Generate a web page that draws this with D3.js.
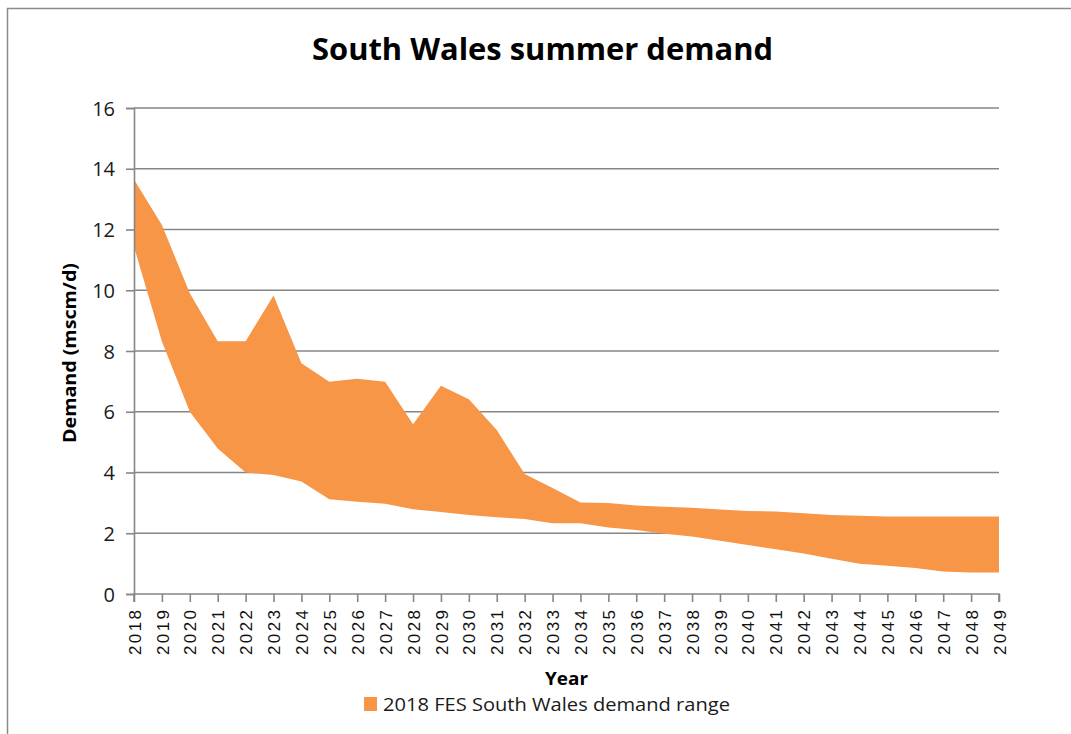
<!DOCTYPE html>
<html>
<head>
<meta charset="utf-8">
<script src="https://cdn.jsdelivr.net/npm/d3@7"></script>
<style>
  html, body { margin: 0; padding: 0; background: #fff; }
  svg { display: block; }
</style>
</head>
<body>
<svg id="chart" width="1071" height="734"></svg>
<script>
// Years on the category axis
const years = [2018, 2019, 2020, 2021, 2022, 2023, 2024, 2025, 2026, 2027,
  2028, 2029, 2030, 2031, 2032, 2033, 2034, 2035, 2036, 2037,
  2038, 2039, 2040, 2041, 2042, 2043, 2044, 2045, 2046, 2047,
  2048, 2049];

// Upper edge of the demand range (mscm/d)
const upper = [13.65, 12.15, 9.9, 8.32, 8.32, 9.83, 7.6, 6.99, 7.09, 6.99,
  5.59, 6.86, 6.41, 5.4, 3.95, 3.49, 3.01, 3.0, 2.91, 2.87,
  2.84, 2.78, 2.73, 2.72, 2.66, 2.6, 2.58, 2.55, 2.55, 2.55,
  2.55, 2.55];

// Lower edge of the demand range (mscm/d)
const lower = [11.43, 8.31, 6.0, 4.79, 4.0, 3.92, 3.7, 3.12, 3.04, 2.97,
  2.79, 2.7, 2.6, 2.53, 2.47, 2.33, 2.33, 2.19, 2.11, 1.98,
  1.89, 1.75, 1.61, 1.47, 1.33, 1.16, 1.0, 0.93, 0.86, 0.74,
  0.71, 0.71];

const yTicks = [0, 2, 4, 6, 8, 10, 12, 14, 16];

const svg = d3.select("#chart");
const plot = { left: 134, right: 999, top: 108, bottom: 594 };
const axisColor = "#868686";
const fillColor = "#F79646";
const uiFont = "'Open Sans', Lato, sans-serif";

// Outer chart frame
svg.append("rect")
  .attr("x", 7.5).attr("y", 8.5)
  .attr("width", 1200).attr("height", 900)
  .attr("fill", "none")
  .attr("stroke", "#8c8c8c")
  .attr("stroke-width", 1.5);

const x = d3.scalePoint().domain(years).range([plot.left, plot.right]);
const y = d3.scaleLinear().domain([0, 16]).range([plot.bottom, plot.top]);

// Horizontal gridlines
svg.append("g")
  .selectAll("line")
  .data(yTicks.filter(d => d > 0))
  .join("line")
  .attr("x1", plot.left).attr("x2", plot.right)
  .attr("y1", d => y(d)).attr("y2", d => y(d))
  .attr("stroke", axisColor)
  .attr("stroke-width", 1.6);

// Demand range band
const area = d3.area()
  .x((d, i) => x(years[i]))
  .y0((d, i) => y(lower[i]))
  .y1((d, i) => y(upper[i]));

svg.append("path")
  .datum(years)
  .attr("d", area)
  .attr("fill", fillColor);

// Y axis
const yAxis = d3.axisLeft(y)
  .tickValues(yTicks)
  .tickSize(8)
  .tickPadding(11)
  .tickFormat(d3.format("d"));

const gy = svg.append("g")
  .attr("transform", `translate(${plot.left},0)`)
  .call(yAxis);
gy.select(".domain").attr("stroke", axisColor).attr("stroke-width", 1.6);
gy.selectAll(".tick line").attr("stroke", axisColor).attr("stroke-width", 1.6);
gy.selectAll(".tick text")
  .attr("fill", "#1a1a1a")
  .attr("dy", "0.36em")
  .style("font-family", uiFont)
  .style("font-size", "20px");

// X axis with vertical year labels
const xAxis = d3.axisBottom(x).tickSize(8);
const gx = svg.append("g")
  .attr("transform", `translate(0,${plot.bottom})`)
  .call(xAxis);
gx.select(".domain").attr("stroke", axisColor).attr("stroke-width", 1.6)
  .attr("d", `M${plot.left},8V0H${plot.right}V8`);
gx.selectAll(".tick line").attr("stroke", axisColor).attr("stroke-width", 1.6);
gx.selectAll(".tick text")
  .attr("fill", "#111")
  .style("font-family", "'Liberation Sans', Arial, sans-serif")
  .style("font-size", "17px")
  .attr("text-anchor", "end")
  .attr("transform", "rotate(-90)")
  .attr("x", -16)
  .attr("y", 0)
  .attr("dy", "0.36em")
  .attr("textLength", 45)
  .attr("lengthAdjust", "spacing");

// Title
svg.append("text")
  .attr("x", 312).attr("y", 60)
  .style("font-family", uiFont)
  .style("font-weight", "bold")
  .style("font-size", "30px")
  .attr("textLength", 461)
  .attr("lengthAdjust", "spacingAndGlyphs")
  .attr("fill", "#000")
  .text("South Wales summer demand");

// Axis titles
svg.append("text")
  .attr("transform", `translate(76,443) rotate(-90)`)
  .style("font-family", uiFont)
  .style("font-weight", "bold")
  .style("font-size", "17px")
  .attr("textLength", 180)
  .attr("lengthAdjust", "spacingAndGlyphs")
  .attr("fill", "#000")
  .text("Demand (mscm/d)");

svg.append("text")
  .attr("x", 545).attr("y", 685)
  .style("font-family", uiFont)
  .style("font-weight", "bold")
  .style("font-size", "18px")
  .attr("textLength", 43)
  .attr("lengthAdjust", "spacingAndGlyphs")
  .attr("fill", "#000")
  .text("Year");

// Legend
const legend = svg.append("g").attr("transform", "translate(364,697)");
legend.append("rect")
  .attr("width", 13).attr("height", 14)
  .attr("fill", fillColor);
legend.append("text")
  .attr("x", 19).attr("y", 14)
  .style("font-family", uiFont)
  .style("font-size", "18px")
  .attr("textLength", 347)
  .attr("lengthAdjust", "spacingAndGlyphs")
  .attr("fill", "#1a1a1a")
  .text("2018 FES South Wales demand range");
</script>
</body>
</html>
